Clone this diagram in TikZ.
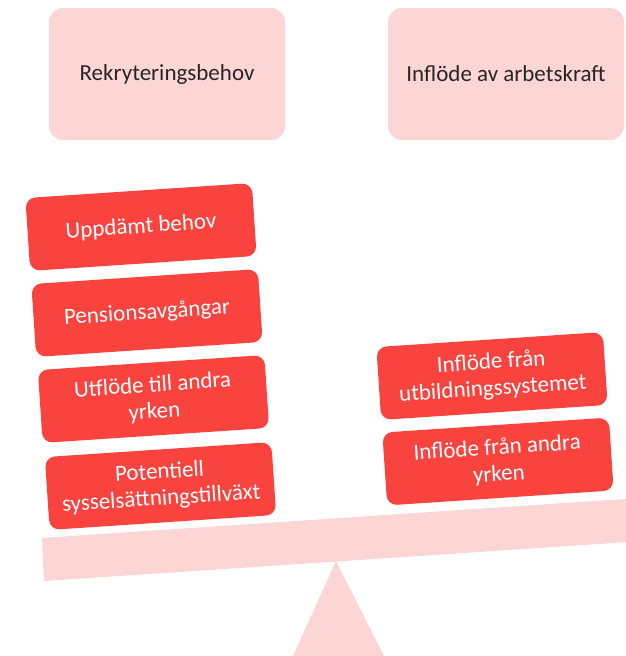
\documentclass[tikz,border=0pt]{standalone}
\usepackage{fontspec}
\setmainfont{Carlito}
\definecolor{scalepink}{RGB}{252,213,213}
\definecolor{scalered}{RGB}{249,67,62}
\definecolor{headtext}{RGB}{38,38,38}
\tikzset{
	headbox/.style={fill=scalepink, rounded corners=14pt, minimum width=236pt, minimum height=132pt, inner sep=0pt, text=headtext, font=\fontsize{23}{27}\selectfont},
	weightbox/.style={fill=scalered, rounded corners=10pt, minimum width=227pt, minimum height=73pt, inner sep=0pt, align=center, text=white, rotate=3.8, font=\fontsize{23}{26.5}\selectfont},
	beam/.style={fill=scalepink}
}

\begin{document}
\begin{tikzpicture}[x=1pt, y=-1pt]
			%%%%% START %%%%%
			\useasboundingbox (0, 0) rectangle (626, 656);
			\clip (0, 0) rectangle (626, 656);
			
			\node[headbox] (needbox) at (167, 74) {Rekryteringsbehov};
			\node[headbox] (inflowbox) at (506, 74) {Inflöde av arbetskraft};
			
			\node[weightbox] (uppdamt) at (141, 227) {Uppdämt behov};
			\node[weightbox] (pension) at (147, 313) {Pensionsavgångar};
			\node[weightbox] (utflode) at (153.5, 399) {Utflöde till andra\\yrken};
			\node[weightbox] (potentiell) at (160.5, 486) {Potentiell\\sysselsättningstillväxt};
			
			\node[weightbox] (infutb) at (492, 376) {Inflöde från\\utbildningssystemet};
			\node[weightbox] (infandra) at (498, 461.5) {Inflöde från andra\\yrken};
			
			\fill[beam] (336, 561) -- (388.5, 665) -- (289, 665) -- cycle;
			\fill[beam] (42, 538) -- (680, 495.3) -- (682, 538.4) -- (44, 581) -- cycle;
			
			%%%%% END %%%%%
\end{tikzpicture}
\end{document}
